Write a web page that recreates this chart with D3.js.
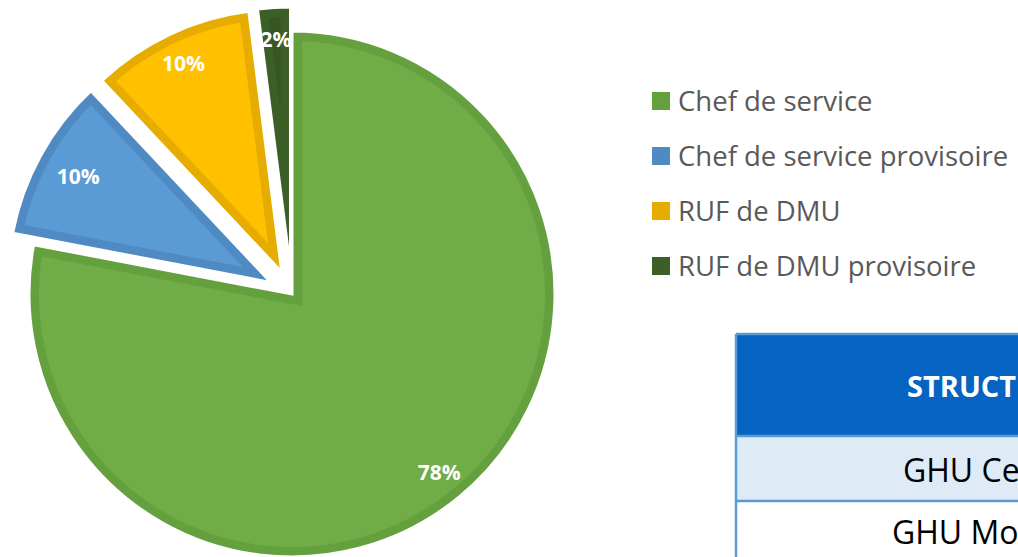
<!DOCTYPE html>
<html>
<head>
<meta charset="utf-8">
<script src="https://cdn.jsdelivr.net/npm/d3@7"></script>
<style>
    body { margin: 0; background: #fff; overflow: hidden; }
    svg { display: block; }
</style>
</head>
<body>
<div id="chart1"></div>
<script>
// data
const categories = ["Chef de service", "Chef de service provisoire", "RUF de DMU", "RUF de DMU provisoire"];
const shares = [78, 10, 10, 2];
const pctLabels = ["78%", "10%", "10%", "2%"];

const tableHeader = "STRUCTURE";
const tableRows = ["GHU Centre", "GHU Mondor"];

const width = 1018;
const height = 557;
const font = "'Open Sans', Lato, sans-serif";

const fills = ["#70ad47", "#5b9bd5", "#ffc000", "#375623"];
const borders = ["#65a03f", "#4f8bc2", "#e6ad00", "#3c5f28"];

const svg = d3.select("#chart1").append("svg").attr("width", width).attr("height", height);

//pie
const cx = 292, cy = 294, radius = 263;
const explode = i => i === 0 ? 0 : 24; // only the small slices are pulled out
const labelR = i => i === 1 ? 220 : 231;

const pie = d3.pie().sort(null).value(d => d);
const arcs = pie(shares);
const arc = d3.arc().innerRadius(0).outerRadius(radius);

const pieG = svg.append("g").attr("transform", `translate(${cx},${cy})`);

const slices = pieG.selectAll("g.slice")
    .data(arcs)
    .join("g")
    .attr("class", "slice")
    .attr("transform", (d, i) => {
        const mid = (d.startAngle + d.endAngle) / 2;
        return `translate(${Math.sin(mid) * explode(i)},${-Math.cos(mid) * explode(i)})`;
    });

svg.append("defs").selectAll("clipPath")
    .data(arcs)
    .join("clipPath")
    .attr("id", (d, i) => "clip" + i)
    .append("path")
    .attr("d", arc);

slices.append("path")
    .attr("d", arc)
    .attr("fill", (d, i) => fills[i]);

// darker inner rim
slices.append("path")
    .attr("d", arc)
    .attr("fill", "none")
    .attr("stroke", (d, i) => borders[i])
    .attr("stroke-width", 20)
    .attr("stroke-linejoin", "miter")
    .attr("clip-path", (d, i) => `url(#clip${i})`);

// thin white edge
slices.append("path")
    .attr("d", arc)
    .attr("fill", "none")
    .attr("stroke", "#fff")
    .attr("stroke-width", 3);

slices.append("text")
    .attr("transform", (d, i) => {
        const mid = (d.startAngle + d.endAngle) / 2;
        return `translate(${Math.sin(mid) * labelR(i)},${-Math.cos(mid) * labelR(i)})`;
    })
    .attr("text-anchor", "middle")
    .attr("dy", "0.36em")
    .attr("fill", "#fff")
    .attr("font-family", font)
    .attr("font-weight", "bold")
    .attr("font-size", 21)
    .text((d, i) => pctLabels[i]);

//legend
const legend = svg.append("g").attr("transform", "translate(652,0)");

const legendY = d3.scalePoint()
    .domain(categories)
    .range([101, 266]);

legend.selectAll("rect")
    .data(categories)
    .join("rect")
    .attr("x", 0)
    .attr("y", d => legendY(d) - 9)
    .attr("width", 18)
    .attr("height", 18)
    .attr("fill", (d, i) => borders[i]);

legend.selectAll("text")
    .data(categories)
    .join("text")
    .attr("x", 26)
    .attr("y", d => legendY(d))
    .attr("dy", "0.35em")
    .attr("fill", "#595959")
    .attr("font-family", font)
    .attr("font-size", 27.5)
    .text(d => d);

//table (cut by the frame, as in the source)
const table = svg.append("g");
const tx = 736, colW = 600;
const rowTops = [334, 436, 501, 566];

table.append("rect")
    .attr("x", tx).attr("y", rowTops[0])
    .attr("width", colW).attr("height", rowTops[1] - rowTops[0])
    .attr("fill", "#0563c1");

table.append("rect")
    .attr("x", tx).attr("y", rowTops[1])
    .attr("width", colW).attr("height", rowTops[2] - rowTops[1])
    .attr("fill", "#deebf7");

table.append("rect")
    .attr("x", tx).attr("y", rowTops[2])
    .attr("width", colW).attr("height", rowTops[3] - rowTops[2])
    .attr("fill", "#fff");

table.selectAll("line.h")
    .data(rowTops)
    .join("line")
    .attr("class", "h")
    .attr("x1", tx).attr("x2", tx + colW)
    .attr("y1", d => d).attr("y2", d => d)
    .attr("stroke", "#5b9bd5")
    .attr("stroke-width", 2.5);

table.append("line")
    .attr("x1", tx).attr("x2", tx)
    .attr("y1", rowTops[0]).attr("y2", height)
    .attr("stroke", "#5b9bd5")
    .attr("stroke-width", 2.5);

table.append("text")
    .attr("x", 907)
    .attr("y", 397)
    .attr("fill", "#fff")
    .attr("font-family", font)
    .attr("font-weight", "bold")
    .attr("font-size", 29)
    .text(tableHeader);

table.selectAll("text.row")
    .data(tableRows)
    .join("text")
    .attr("class", "row")
    .attr("x", (d, i) => i === 0 ? 903 : 892)
    .attr("y", (d, i) => i === 0 ? 482 : 544)
    .attr("fill", "#000")
    .attr("font-family", font)
    .attr("font-size", 32)
    .text(d => d);
</script>
</body>
</html>
